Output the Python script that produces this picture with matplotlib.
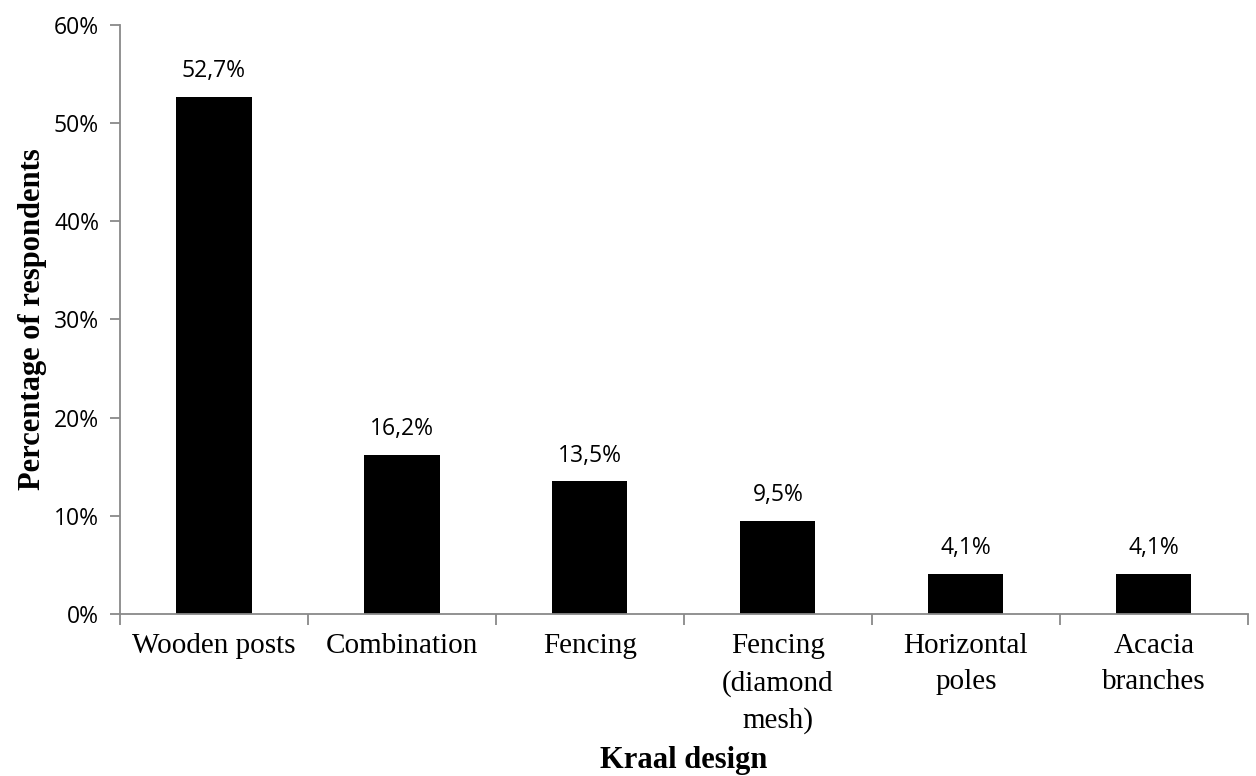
import numpy as np
import matplotlib.pyplot as plt

categories = ['Wooden posts', 'Combination', 'Fencing', 'Fencing\n(diamond\nmesh)',
              'Horizontal\npoles', 'Acacia\nbranches']
values = [52.7, 16.2, 13.5, 9.5, 4.1, 4.1]
labels = ['52,7%', '16,2%', '13,5%', '9,5%', '4,1%', '4,1%']
yticks = [0, 10, 20, 30, 40, 50, 60]

fig = plt.figure(figsize=(12.56, 7.76), dpi=100)
ax = fig.add_axes([0.0955, 0.2088, 0.898, 0.759])

x = np.arange(len(categories))
ax.bar(x, values, width=0.4, color='black')
for xi, v, lab in zip(x, values, labels):
    ax.text(xi, v + 2.6, lab, ha='center', va='center', fontsize=16.5, family='Open Sans')

ax.set_xlim(-0.5, len(categories) - 0.5)
ax.set_ylim(0, 60)
ax.set_yticks(yticks)
ax.set_yticklabels([f'{t}%' for t in yticks], fontsize=16.5, family='Open Sans')

ax.set_xticks(x)
ax.set_xticklabels(categories, fontsize=21, family='Liberation Serif', linespacing=1.5)
ax.set_xticks(np.arange(-0.5, len(categories)), minor=True)
ax.tick_params(axis='x', which='major', length=0, pad=14)
ax.tick_params(axis='x', which='minor', length=8, color='#898989', width=1.3)
ax.tick_params(axis='y', length=7, color='#898989', width=1.3, pad=8)

for s in ['top', 'right']:
    ax.spines[s].set_visible(False)
for s in ['left', 'bottom']:
    ax.spines[s].set_color('#898989')
    ax.spines[s].set_linewidth(1.3)

ax.set_xlabel('Kraal design', fontsize=22, family='Liberation Serif', fontweight='bold', labelpad=9)
ax.set_ylabel('Percentage of respondents', fontsize=22, family='Liberation Serif',
              fontweight='bold', labelpad=5)

fig.savefig('out.png', dpi=100)
